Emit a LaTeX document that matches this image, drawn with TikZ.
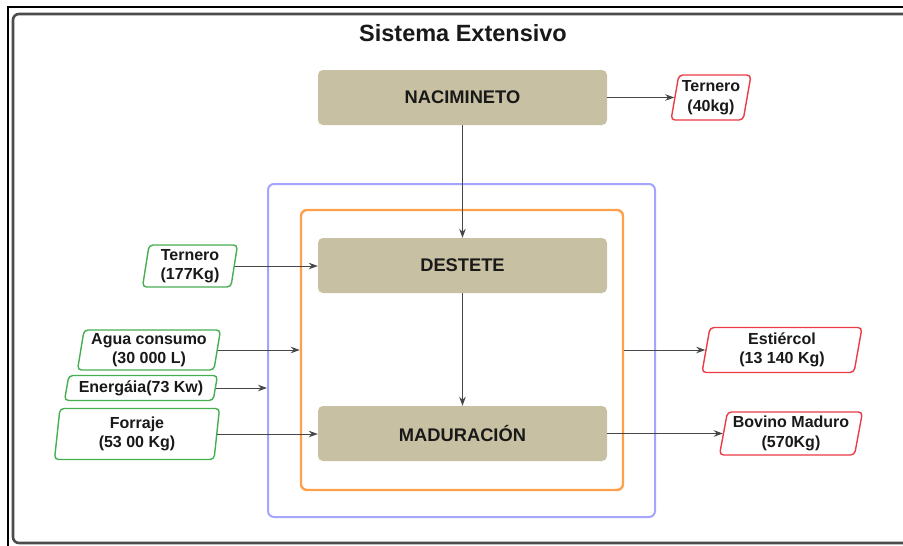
\documentclass[tikz,border=0pt]{standalone}
\usepackage{fontspec}
\setmainfont{Liberation Sans}
\usetikzlibrary{shapes.geometric,arrows.meta}
\definecolor{tanc}{RGB}{200,192,162}
\definecolor{ingreen}{RGB}{70,175,80}
\definecolor{outred}{RGB}{235,60,70}
\definecolor{arrowgray}{RGB}{70,70,70}
\definecolor{bluec}{RGB}{165,165,255}
\definecolor{orangec}{RGB}{255,160,75}
\definecolor{txt}{RGB}{25,25,25}
\begin{document}
\begin{tikzpicture}[x=1pt,y=-1pt,
 proc/.style={draw=none, fill=tanc, rounded corners=5pt, minimum width=289pt, minimum height=55pt, text=txt, font=\bfseries\fontsize{18.3}{21}\selectfont},
 io/.style={trapezium, trapezium stretches body, line width=1.4pt, rounded corners=4pt, inner sep=0pt, align=center, text=txt, fill=white, font=\bfseries\fontsize{16}{19.5}\selectfont},
 inp/.style={io, draw=ingreen},
 outp/.style={io, draw=outred},
 flow/.style={draw=arrowgray, line width=0.9pt, -{Stealth[length=9pt,width=6.5pt]}},
 frame/.style={draw, rounded corners=6pt, fill=none},
]
\clip (0,0) rectangle (903,546);
\fill[white] (0,0) rectangle (903,546);
% outer frames
\draw[black, line width=1.6pt] (903,7) -- (8,7) -- (8,550);
\draw[gray!60!black, line width=2.6pt, rounded corners=6pt] (13,14) rectangle (920,543);
% title
\node[font=\bfseries\fontsize{23.5}{27}\selectfont, text=txt] (title) at (463,33) {Sistema Extensivo};
% containers
\node[frame, draw=bluec, line width=2pt, minimum width=387pt, minimum height=333pt] (blue) at (461.5,350.5) {};
\node[frame, draw=orangec, line width=2.4pt, minimum width=322pt, minimum height=280pt] (orange) at (462,350) {};
% process boxes
\node[proc] (nac) at (462.5,97.5) {NACIMINETO};
\node[proc] (des) at (462.5,265.5) {DESTETE};
\node[proc] (mad) at (462.5,433.5) {MADURACIÓN};
% inputs
\node[inp, trapezium left angle=79, trapezium right angle=101, minimum width=95pt, minimum height=42pt] (t177) at (190,266) {Ternero\\(177Kg)};
\node[inp, trapezium left angle=79, trapezium right angle=101, minimum width=143pt, minimum height=40pt] (agua) at (149,350) {Agua consumo\\(30 000 L)};
\node[inp, trapezium left angle=74, trapezium right angle=106, minimum width=153pt, minimum height=25pt] (energ) at (141,388) {Energáia(73 Kw)};
\node[inp, trapezium left angle=81, trapezium right angle=99, minimum width=165pt, minimum height=51pt] (forr) at (137,434) {Forraje\\(53 00 Kg)};
% outputs
\node[outp, trapezium left angle=77, trapezium right angle=103, minimum width=80pt, minimum height=45pt] (t40) at (711,97.5) {Ternero\\(40kg)};
\node[outp, trapezium left angle=77, trapezium right angle=103, minimum width=160pt, minimum height=45pt] (est) at (782,350) {Estiércol\\(13 140 Kg)};
\node[outp, trapezium left angle=77, trapezium right angle=103, minimum width=143pt, minimum height=43pt] (bov) at (791,433.5) {Bovino Maduro\\(570Kg)};
% connectors
\draw[flow] (nac.east) -- (t40.west);
\draw[flow] (nac.south) -- (des.north);
\draw[flow] (des.south) -- (mad.north);
\draw[flow] (t177.east) -- (t177.east -| des.west);
\draw[flow] (agua.east) -- (agua.east -| orange.west);
\draw[flow] (energ.east) -- (energ.east -| blue.west);
\draw[flow] (forr.east) -- (forr.east -| mad.west);
\draw[flow] (est.west -| orange.east) -- (est.west);
\draw[flow] (mad.east) -- (bov.west);
\end{tikzpicture}
\end{document}
